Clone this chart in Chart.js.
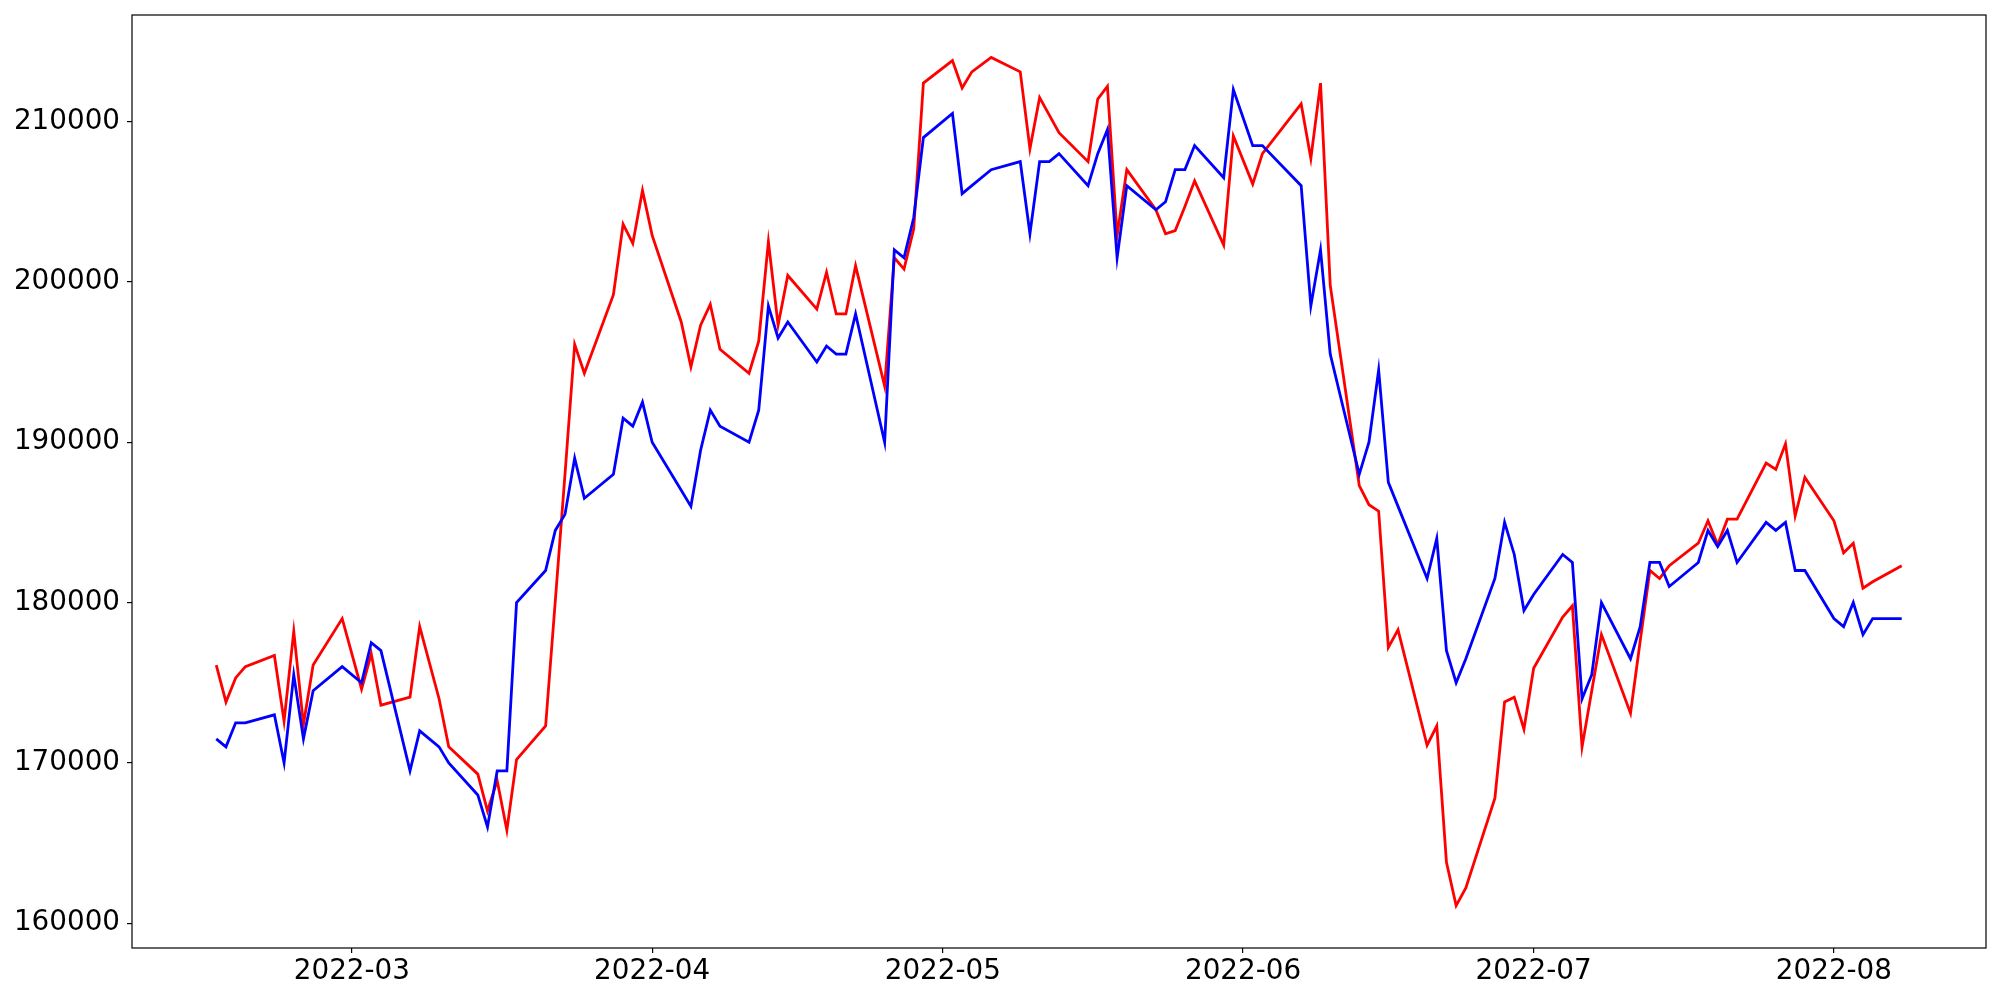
<!DOCTYPE html>
<html>
<head>
<meta charset="utf-8">
<script src="https://cdn.jsdelivr.net/npm/chart.js"></script>
<style>
  body { margin: 0; background: #fff; }
  #wrap { width: 2000px; height: 1000px; }
</style>
</head>
<body>
<div id="wrap"><canvas id="chart"></canvas></div>
<script>
// trading days shown in the chart
const dates = [
    '2022-02-15', '2022-02-16', '2022-02-17', '2022-02-18', '2022-02-21', '2022-02-22', '2022-02-23', '2022-02-24', '2022-02-25', '2022-02-28',
    '2022-03-02', '2022-03-03', '2022-03-04', '2022-03-07', '2022-03-08', '2022-03-10', '2022-03-11', '2022-03-14', '2022-03-15', '2022-03-16',
    '2022-03-17', '2022-03-18', '2022-03-21', '2022-03-22', '2022-03-23', '2022-03-24', '2022-03-25', '2022-03-28', '2022-03-29', '2022-03-30',
    '2022-03-31', '2022-04-01', '2022-04-04', '2022-04-05', '2022-04-06', '2022-04-07', '2022-04-08', '2022-04-11', '2022-04-12', '2022-04-13',
    '2022-04-14', '2022-04-15', '2022-04-18', '2022-04-19', '2022-04-20', '2022-04-21', '2022-04-22', '2022-04-25', '2022-04-26', '2022-04-27',
    '2022-04-28', '2022-04-29', '2022-05-02', '2022-05-03', '2022-05-04', '2022-05-06', '2022-05-09', '2022-05-10', '2022-05-11', '2022-05-12',
    '2022-05-13', '2022-05-16', '2022-05-17', '2022-05-18', '2022-05-19', '2022-05-20', '2022-05-23', '2022-05-24', '2022-05-25', '2022-05-26',
    '2022-05-27', '2022-05-30', '2022-05-31', '2022-06-02', '2022-06-03', '2022-06-07', '2022-06-08', '2022-06-09', '2022-06-10', '2022-06-13',
    '2022-06-14', '2022-06-15', '2022-06-16', '2022-06-17', '2022-06-20', '2022-06-21', '2022-06-22', '2022-06-23', '2022-06-24', '2022-06-27',
    '2022-06-28', '2022-06-29', '2022-06-30', '2022-07-01', '2022-07-04', '2022-07-05', '2022-07-06', '2022-07-07', '2022-07-08', '2022-07-11',
    '2022-07-12', '2022-07-13', '2022-07-14', '2022-07-15', '2022-07-18', '2022-07-19', '2022-07-20', '2022-07-21', '2022-07-22', '2022-07-25',
    '2022-07-26', '2022-07-27', '2022-07-28', '2022-07-29', '2022-08-01', '2022-08-02', '2022-08-03', '2022-08-04', '2022-08-05', '2022-08-08'
];

const redValues = [
    176100, 173800, 175300, 176000, 176700, 172600, 178200, 172400, 176100, 179000,
    174600, 176800, 173600, 174100, 178500, 174000, 171000, 169300, 167000, 168900,
    165800, 170200, 172300, 180100, 188000, 196100, 194300, 199200, 203600, 202400,
    205700, 202900, 197500, 194700, 197300, 198600, 195800, 194300, 196300, 202500,
    197300, 200400, 198300, 200600, 198000, 198000, 201000, 193500, 201500, 200800,
    203300, 212400, 213800, 212100, 213100, 214000, 213100, 208300, 211500, 210400,
    209300, 207500, 211400, 212200, 202900, 207000, 204500, 203000, 203200, 204700,
    206300, 202300, 209100, 206100, 208000, 211100, 207700, 212400, 199800, 187300,
    186100, 185700, 177200, 178300, 171100, 172300, 163800, 161100, 162200, 167800,
    173800, 174100, 172100, 175900, 179100, 179800, 171000, 174500, 178000, 173100,
    177600, 182000, 181500, 182300, 183700, 185100, 183600, 185200, 185200, 188700,
    188300, 189900, 185400, 187800, 185100, 183100, 183700, 180900, 181300, 182300
];

const blueValues = [
    171500, 171000, 172500, 172500, 173000, 170000, 175500, 171500, 174500, 176000,
    175000, 177500, 177000, 169500, 172000, 171000, 170000, 168000, 166000, 169500,
    169500, 180000, 182000, 184500, 185500, 189000, 186500, 188000, 191500, 191000,
    192500, 190000, 187000, 186000, 189500, 192000, 191000, 190000, 192000, 198500,
    196500, 197500, 195000, 196000, 195500, 195500, 198000, 190000, 202000, 201500,
    204000, 209000, 210500, 205500, 206000, 207000, 207500, 203000, 207500, 207500,
    208000, 206000, 208000, 209500, 201500, 206000, 204500, 205000, 207000, 207000,
    208500, 206500, 212000, 208500, 208500, 206000, 198500, 202000, 195500, 188000,
    190000, 194500, 187500, 186000, 181500, 184000, 177000, 175000, 176500, 181500,
    185000, 183000, 179500, 180500, 183000, 182500, 174000, 175500, 180000, 176500,
    178500, 182500, 182500, 181000, 182500, 184500, 183500, 184500, 182500, 185000,
    184500, 185000, 182000, 182000, 179000, 178500, 180000, 178000, 179000, 179000
];

const monthTicks = ['2022-03-01', '2022-04-01', '2022-05-01', '2022-06-01', '2022-07-01', '2022-08-01'];
const yTicks = [160000, 170000, 180000, 190000, 200000, 210000];

function toDay(s) {
    const p = s.split('-').map(Number);
    return Date.UTC(p[0], p[1] - 1, p[2]) / 86400000;
}
function dayLabel(d) {
    const dt = new Date(d * 86400000);
    return dt.getUTCFullYear() + '-' + String(dt.getUTCMonth() + 1).padStart(2, '0');
}

const xs = dates.map(toDay);
const redData = xs.map((x, i) => ({ x: x, y: redValues[i] }));
const blueData = xs.map((x, i) => ({ x: x, y: blueValues[i] }));

// matplotlib-like 5% margins
const xMin0 = Math.min(...xs), xMax0 = Math.max(...xs);
const xPad = (xMax0 - xMin0) * 0.05;
const allY = redValues.concat(blueValues);
const yMin0 = Math.min(...allY), yMax0 = Math.max(...allY);
const yPad = (yMax0 - yMin0) * 0.05;

const frame = {
    id: 'frame',
    afterDraw(chart) {
        const a = chart.chartArea, ctx = chart.ctx;
        ctx.save();
        ctx.strokeStyle = '#000';
        ctx.lineWidth = 1.2;
        ctx.strokeRect(a.left, a.top, a.right - a.left, a.bottom - a.top);
        ctx.restore();
    }
};

const tickFont = { family: 'DejaVu Sans', size: 27.8 };

new Chart(document.getElementById('chart'), {
    type: 'line',
    data: {
        datasets: [
            {
                data: blueData,
                borderColor: '#0000ff',
                borderWidth: 2.8,
                pointRadius: 0,
                tension: 0,
                fill: false
            },
            {
                data: redData,
                borderColor: '#ff0000',
                borderWidth: 2.8,
                pointRadius: 0,
                tension: 0,
                fill: false
            }
        ]
    },
    options: {
        responsive: true,
        maintainAspectRatio: false,
        animation: false,
        layout: { padding: { left: 0, top: 15, right: 14, bottom: 0 } },
        plugins: { legend: { display: false }, tooltip: { enabled: false } },
        scales: {
            x: {
                type: 'linear',
                min: xMin0 - xPad,
                max: xMax0 + xPad,
                afterBuildTicks: (scale) => {
                    scale.ticks = monthTicks.map(m => ({ value: toDay(m) }));
                },
                afterFit: (scale) => {
                    scale.height = 52;
                    scale.paddingLeft = 0;
                    scale.paddingRight = 0;
                },
                ticks: {
                    callback: (v) => dayLabel(v),
                    color: '#000',
                    font: tickFont,
                    padding: 2,
                    maxRotation: 0,
                    autoSkip: false
                },
                grid: { drawOnChartArea: false, drawTicks: true, tickLength: 5, color: '#000', lineWidth: 1.2 },
                border: { display: false }
            },
            y: {
                type: 'linear',
                min: yMin0 - yPad,
                max: yMax0 + yPad,
                afterBuildTicks: (scale) => {
                    scale.ticks = yTicks.map(v => ({ value: v }));
                },
                afterFit: (scale) => {
                    scale.width = 132;
                    scale.paddingTop = 0;
                    scale.paddingBottom = 0;
                },
                ticks: {
                    callback: (v) => String(v),
                    color: '#000',
                    font: tickFont,
                    padding: 7,
                    autoSkip: false
                },
                grid: { drawOnChartArea: false, drawTicks: true, tickLength: 5, color: '#000', lineWidth: 1.2 },
                border: { display: false }
            }
        }
    },
    plugins: [frame]
});
</script>
</body>
</html>
